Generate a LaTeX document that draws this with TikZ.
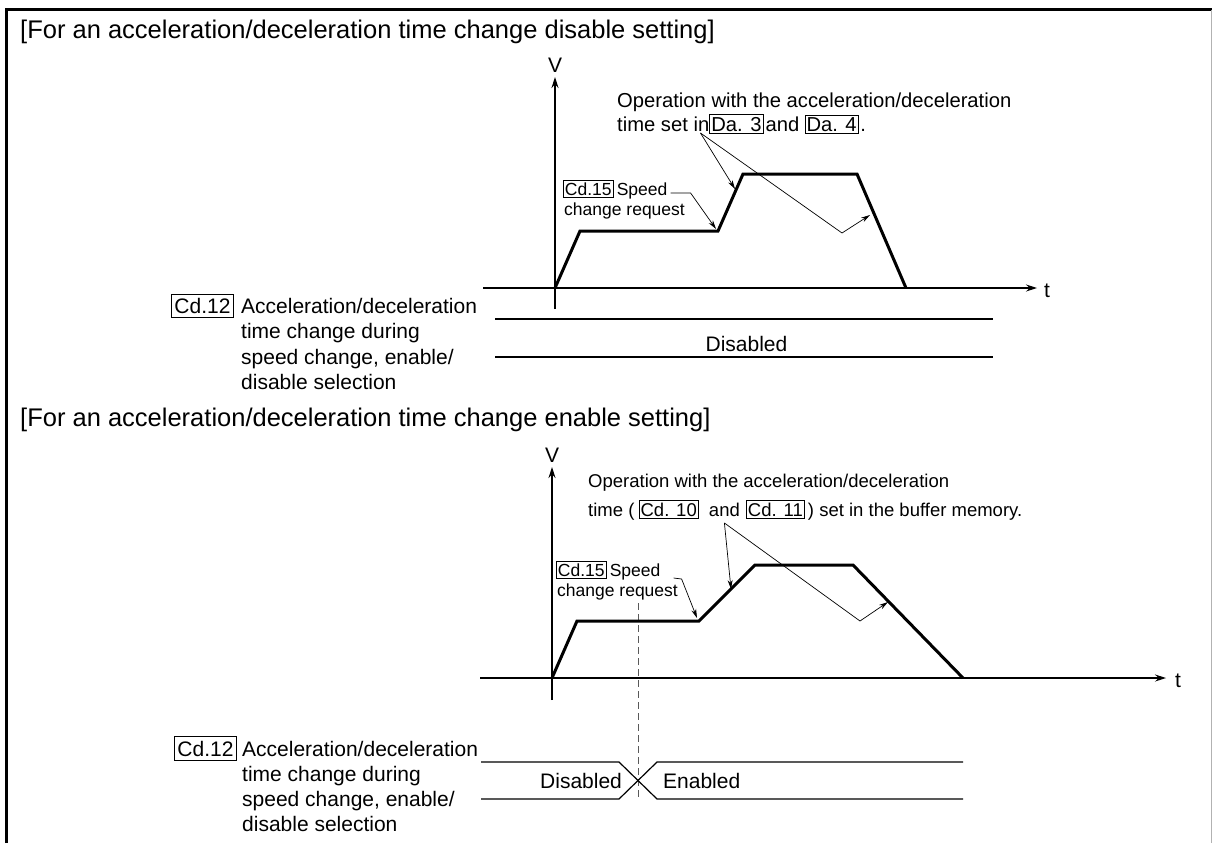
\documentclass[tikz,border=0pt]{standalone}
\usepackage{fontspec}
\setmainfont{Liberation Sans}
\usetikzlibrary{arrows.meta, positioning}

\newcommand{\fsz}[1]{\fontsize{#1}{#1}\selectfont}

\begin{document}
\begin{tikzpicture}[
    x=1pt, y=-1pt,
    every node/.style={inner sep=0pt},
    heading/.style={font=\fsz{25.5}, anchor=base west},
    lbl/.style={font=\fsz{21}, anchor=base west},
    note/.style={font=\fsz{20.2}, anchor=base west},
    smallnote/.style={font=\fsz{18.5}, anchor=base west},
    req/.style={font=\fsz{17.5}, anchor=base west},
    tag/.style={draw, line width=0.9pt, inner xsep=1.5pt, inner ysep=2pt},
    bigtag/.style={draw, line width=0.9pt, inner xsep=3pt, inner ysep=4pt,
      font=\fsz{21}, anchor=base west},
    axis/.style={line width=1.2pt, -{Stealth[length=11pt, width=7pt]}},
    profile/.style={line width=3pt, line join=miter},
    pointer/.style={line width=0.7pt, -{Stealth[length=9pt, width=5pt]}},
    sigline/.style={line width=1.2pt},
    request/.style={black!65, line width=1pt, dash pattern=on 7pt off 4pt}
]
\useasboundingbox (0,0) rectangle (1212,843);

% frame
\draw[line width=3pt] (6.5,843) -- (6.5,10) -- (1212,10);
\draw[black!30, line width=0.8pt] (1211,10) -- (1211,843);

% headings
\node[heading] (head1) at (20,38) {[For an acceleration/deceleration time change disable setting]};
\node[heading] (head2) at (20,426) {[For an acceleration/deceleration time change enable setting]};

% ---- disable setting ----
\coordinate (v1bot) at (555,309);
\coordinate (v1top) at (555,77);
\coordinate (t1left) at (483,288);
\coordinate (t1right) at (1037,288);
\draw[axis] (v1bot) -- (v1top);
\draw[axis] (t1left) -- (t1right);
\node[font=\fsz{21}] (v1) at (555,65) {V};
\node[font=\fsz{21}] (t1) at (1047,291) {t};

\draw[profile] (555,288) -- (580,231) -- (718,231) -- (743,174) -- (857,174) -- (906,288);

\node[tag, req] (cd15a) at (563,195) {Cd.15};
\node[req] (spd1) at ([xshift=3pt]cd15a.base east) {Speed};
\node[req] (chg1) at (564,215) {change request};
\coordinate (acc1) at (716,229);
\draw[pointer] ([xshift=3pt, yshift=2pt]spd1.base east) -- ++(20,0) -- (acc1);

\node[note] (op1) at (617,107) {Operation with the acceleration/deceleration};
\node[note] (tsi) at (617,131) {time set in};
\node[tag, note] (da3) at (tsi.base east) {Da. 3};
\node[note, inner xsep=2pt] (and1) at (da3.base east) {and};
\node[tag, note] (da4) at ([xshift=3pt]and1.base east) {Da. 4};
\node[note, inner xsep=1.5pt] (dot1) at (da4.base east) {.};

\coordinate (src1) at ([xshift=-9pt, yshift=-2pt]tsi.base east);
\coordinate (acc1b) at (735,189);
\coordinate (bend1) at (842,233);
\coordinate (dec1) at (870,215);
\draw[pointer] (src1) -- (acc1b);
\draw[pointer] (src1) -- (bend1) -- (dec1);

\node[bigtag] (cd12a) at (171,313.5) {Cd.12};
\node[lbl] (sel1a) at (241,313.5) {Acceleration/deceleration};
\node[lbl] (sel1b) at (241,338.8) {time change during};
\node[lbl] (sel1c) at (241,364.1) {speed change, enable/};
\node[lbl] (sel1d) at (241,389.4) {disable selection};

\draw[sigline] (495,319) -- (993,319);
\draw[sigline] (495,357) -- (993,357);
\node[lbl, anchor=base] (dis1) at (746.5,351) {Disabled};

% ---- enable setting ----
\coordinate (v2bot) at (552,700);
\coordinate (v2top) at (552,467);
\coordinate (t2left) at (480,678);
\coordinate (t2right) at (1166,678);
\draw[request] (638,603) -- (638,800);
\draw[axis] (v2bot) -- (v2top);
\draw[axis] (t2left) -- (t2right);
\node[font=\fsz{21}] (v2) at (552,455) {V};
\node[font=\fsz{21}] (t2) at (1178,681) {t};

\draw[profile] (552,678) -- (577,621) -- (699,621) -- (755,565) -- (853,565) -- (963,678);

\node[tag, req] (cd15b) at (556,576) {Cd.15};
\node[req] (spd2) at ([xshift=3pt]cd15b.base east) {Speed};
\node[req] (chg2) at (557,596) {change request};
\coordinate (acc2) at (697,618);
\draw[pointer] ([xshift=13pt, yshift=-2pt]spd2.base east) -- ++(8,1) -- (acc2);

\node[smallnote] (op2) at (588,487) {Operation with the acceleration/deceleration};
\node[smallnote] (tim2) at (588,516) {time (};
\node[tag, smallnote] (cd10) at ([xshift=4pt]tim2.base east) {Cd. 10};
\node[smallnote] (and2) at ([xshift=10pt]cd10.base east) {and};
\node[tag, smallnote] (cd11) at ([xshift=6pt]and2.base east) {Cd. 11};
\node[smallnote] (buf2) at ([xshift=3pt]cd11.base east) {) set in the buffer memory.};

\coordinate (src2) at ([yshift=-7pt]and2.base);
\coordinate (acc2b) at (731,589);
\coordinate (bend2) at (860,621);
\coordinate (dec2) at (888,602);
\draw[pointer] (src2) -- (acc2b);
\draw[pointer] (src2) -- (bend2) -- (dec2);

\node[bigtag] (cd12b) at (174,756) {Cd.12};
\node[lbl] (sel2a) at (242,756) {Acceleration/deceleration};
\node[lbl] (sel2b) at (242,781.3) {time change during};
\node[lbl] (sel2c) at (242,806.6) {speed change, enable/};
\node[lbl] (sel2d) at (242,831.9) {disable selection};

\draw[sigline] (481,762) -- (619,762) -- (657,799) -- (963,799);
\draw[sigline] (481,799) -- (619,799) -- (657,762) -- (963,762);
\node[lbl] (dis2) at (540,788) {Disabled};
\node[lbl] (ena2) at (663,788) {Enabled};
\end{tikzpicture}
\end{document}
